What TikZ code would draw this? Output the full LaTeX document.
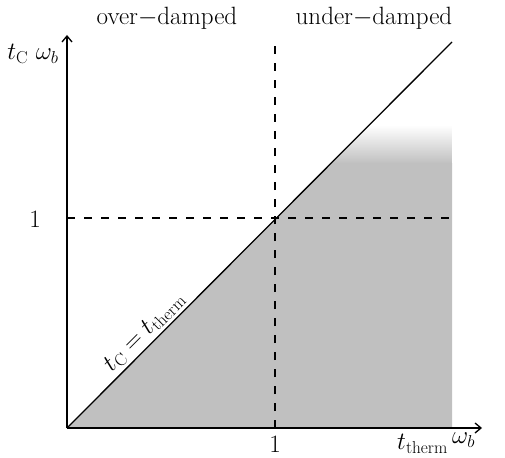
\documentclass[tikz,border=0pt]{standalone}
\usetikzlibrary{arrows.meta}
\definecolor{regiongrey}{RGB}{192,192,192}
\tikzset{
  axis/.style={line width=1.3pt,-{Straight Barb[length=6pt,width=10pt,line width=1.3pt]}},
  diag/.style={line width=1.3pt},
  guide/.style={line width=1.8pt,dash pattern=on 8pt off 9pt},
  lbl/.style={font=\fontsize{25}{29}\selectfont,inner sep=0pt}
}
\begin{document}
\begin{tikzpicture}[x=1pt,y=-1pt]
\useasboundingbox (0,0) rectangle (505,457);
% named points
\coordinate (O) at (67,428);
\coordinate (XE) at (482,428);
\coordinate (YE) at (67,35);
\coordinate (DE) at (452,42);
\coordinate (VB) at (275,428);
\coordinate (VT) at (275,42);
\coordinate (HL) at (67,218);
\coordinate (HR) at (452,218);
% grey region
\fill[regiongrey] (O) -- (452,428) -- (452,163) -- (331.3,163) -- cycle;
\begin{scope}
  \clip (331.3,163.5) -- (369.2,125) -- (452,125) -- (452,163.5) -- cycle;
  \shade[top color=white,bottom color=regiongrey] (320,125) rectangle (452,163.5);
\end{scope}
% guides
\draw[guide] (VB) -- (VT);
\draw[guide] (HL) -- (HR);
% diagonal
\draw[diag] (O) -- (DE) node[pos=0.225,sloped,above=3pt,lbl] (eq) {$t_{\mathrm{C}} = t_{\mathrm{therm}}$};
% axes
\draw[axis] (O) -- (XE);
\draw[axis] (O) -- (YE);
% labels
\node[lbl] (one-y) at (35,219) {1};
\node[lbl] (one-x) at (275,444) {1};
\node[lbl] (ylab) at (33,54) {$t_{\mathrm{C}}\ \omega_b$};
\node[lbl,anchor=west] (xlab) at (397,443) {$t_{\mathrm{therm}}\,\raisebox{6pt}{$\omega_b$}$};
\node[lbl] (over) at (167,18) {over$-$damped};
\node[lbl] (under) at (374,18) {under$-$damped};
\end{tikzpicture}
\end{document}
